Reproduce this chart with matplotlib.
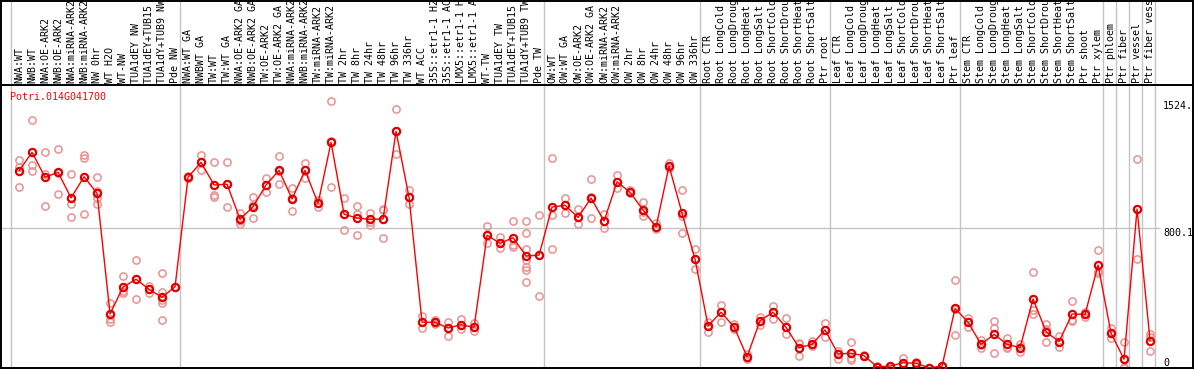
import matplotlib
matplotlib.use("Agg")
import matplotlib.pyplot as plt
import numpy as np

gene = "Potri.014G041700"

labels = [
    "NWA:WT", "NWB:WT", "NWA:OE-ARK2", "NWB:OE-ARK2", "NWA:miRNA-ARK2", "NWB:miRNA-ARK2",
    "NW 0hr", "WT H2O", "WT-NW", "TUA1dEY NW", "TUA1dEY+TUB15 NW", "TUA1dY+TUB9 NW", "Pde NW",
    "NWA:WT GA", "NWBWT GA", "TW:WT", "TW:WT GA", "NWA:OE-ARK2 GA", "NWB:OE-ARK2 GA",
    "TW:OE-ARK2", "TW:OE-ARK2 GA", "NWA:miRNA-ARK2 GA", "NWB:miRNA-ARK2 GA", "TW:miRNA-ARK2",
    "TW:miRNA-ARK2 GA", "TW 2hr", "TW 8hr", "TW 24hr", "TW 48hr", "TW 96hr", "TW 336hr",
    "WT ACC", "35S::etr1-1 H2O", "35S::etr1-1 ACC", "LMX5::etr1-1 H2O", "LMX5::etr1-1 ACC",
    "WT-TW", "TUA1dEY TW", "TUA1dEY+TUB15 TW", "TUA1dY+TUB9 TW", "Pde TW",
    "OW:WT", "OW:WT GA", "OW:OE-ARK2", "OW:OE-ARK2 GA", "OW:miRNA-ARK2", "OW:miRNA-ARK2 GA",
    "OW 2hr", "OW 8hr", "OW 24hr", "OW 48hr", "OW 96hr", "OW 336hr",
    "Root CTR", "Root LongCold", "Root LongDrought", "Root LongHeat", "Root LongSalt",
    "Root ShortCold", "Root ShortDrought", "Root ShortHeat", "Root ShortSalt", "Ptr root",
    "Leaf CTR", "Leaf LongCold", "Leaf LongDrought", "Leaf LongHeat", "Leaf LongSalt",
    "Leaf ShortCold", "Leaf ShortDrought", "Leaf ShortHeat", "Leaf ShortSalt", "Ptr leaf",
    "Stem CTR", "Stem LongCold", "Stem LongDrought", "Stem LongHeat", "Stem LongSalt",
    "Stem ShortCold", "Stem ShortDrought", "Stem ShortHeat", "Stem ShortSalt", "Ptr shoot",
    "Ptr xylem", "Ptr phloem", "Ptr fiber", "Ptr vessel", "Ptr fiber vessel",
]

group_sizes = [13, 28, 12, 10, 10, 11, 1, 1, 1, 1]

means = [
    1125, 1230, 1088, 1116, 970, 1091, 996, 308, 462, 506, 449, 403, 464,
    1088, 1173, 1044, 1048, 848, 920, 1044, 1127, 964, 1127, 939, 1287,
    877, 855, 848, 850, 1350, 973, 261, 261, 228, 247, 232,
    757, 711, 743, 639, 644,
    918, 928, 859, 969, 838, 1062, 1002, 901, 804, 1152, 882, 620,
    241, 318, 234, 64, 270, 318, 232, 116, 135, 217,
    80, 84, 70, 7, 11, 30, 27, 1, 11, 340,
    261, 135, 192, 135, 116, 394, 207, 150, 308, 306, 587,
    198, 50, 907, 156,
]

reps = [
    [1186, 1148, 1031], [1414, 1158, 1124], [1230, 1106, 924], [1247, 991, 1110],
    [1106, 934, 861], [1215, 1199, 877], [1088, 1009, 968, 934], [369, 278, 264],
    [525, 426, 439], [614, 392, 508], [468, 426, 451], [542, 435, 388, 372, 274], [464],
    [1095, 1081, 1086], [1215, 1173, 1129], [1175, 987, 977], [1175, 918, 1049],
    [886, 820, 838], [977, 854, 930], [1082, 1005, 1044], [1209, 1048, 1126],
    [1025, 897, 970], [1167, 1085, 1129], [958, 941, 920], [1524, 1031, 1295],
    [968, 787, 877], [922, 878, 757], [886, 833, 816], [908, 901, 740],
    [1475, 1220, 1350], [1015, 934, 973], [297, 230, 261], [274, 261, 251],
    [261, 184, 228], [278, 221, 247], [255, 209, 232],
    [810, 711, 757], [749, 683, 711], [838, 692, 701],
    [838, 768, 677, 616, 578, 559, 489], [871, 411],
    [1196, 871, 677], [968, 882, 928], [905, 820, 859], [1076, 854, 973],
    [878, 797, 838], [1101, 1025, 1062], [1015, 996, 1002], [945, 869, 891],
    [825, 791, 804], [1171, 1139, 1152], [1015, 768, 867], [679, 563, 620],
    [261, 204, 241], [358, 261, 319], [249, 221, 234], [80, 64, 51], [289, 245, 270],
    [354, 278, 319], [283, 192, 232], [141, 70, 137], [156, 135, 125], [255, 175, 217],
    [99, 50, 80], [147, 46, 59], [70, 66, 74], [7, 3, 11], [11, 8, 14],
    [55, 17, 18], [36, 17, 28], [0, 1, 2], [13, 9, 11], [500, 186, 334],
    [287, 232, 261], [160, 116, 130], [268, 226, 84], [173, 112, 120], [135, 93, 120],
    [546, 331, 308], [249, 147, 225], [182, 121, 147], [382, 268, 274], [321, 293, 306],
    [671, 543, 553], [228, 169, 198], [150, 7, 0], [1190, 620, 907], [192, 179, 99],
]

y_ticks = [0, 800.1, 1524]
y_tick_text = ["0", "800.1", "1524."]

W, H = 1194, 370
fig = plt.figure(figsize=(W / 100, H / 100), dpi=100)
ax = fig.add_axes([1 / W, 2 / H, 1192 / W, 283 / H])
hx = fig.add_axes([1 / W, 285 / H, 1192 / W, 84.5 / H])

xl = (-10 / 13, 1182 / 13)
xs = np.arange(len(labels)) + 0.62
mono = "DejaVu Sans Mono"
grid_c = "#c4c4c4"

bounds = np.concatenate([[0], np.cumsum(group_sizes)])
for a in (ax, hx):
    a.set_xlim(*xl)
    for b in bounds:
        a.axvline(b, color=grid_c, lw=1, zorder=0)
    a.set_xticks([])
    a.set_yticks([])
    for s in a.spines.values():
        s.set_linewidth(1.4)
        s.set_color("black")

ax.set_ylim(0, 1614)
ax.hlines(y_ticks[1], xl[0], 88.4, color=grid_c, lw=1, zorder=0)

for x, r in zip(xs, reps):
    ax.plot([x] * len(r), r, "o", ms=5.2, mfc="none", mec="#ec9090", mew=1.1, zorder=2)
ax.plot(xs, means, "-", color="red", lw=1, zorder=3)
ax.plot(xs, means, "o", ms=5.2, mfc="none", mec="#e00000", mew=1.6, zorder=4)

# gene name, top left inside the plot
ax.text(-0.08, 0.958, gene, transform=ax.get_xaxis_transform(), color="red",
        family=mono, fontsize=7.2, va="center", ha="left")

for v, t in zip(y_ticks, y_tick_text):
    va = "bottom" if v == 0 else "top"
    ax.text(88.62, v, t, family=mono, fontsize=7.2, ha="left", va=va, clip_on=False)

hx.set_ylim(0, 85)
for x, lab in zip(xs, labels):
    hx.text(x, 1.8, lab, rotation=90, family=mono, fontsize=7.2,
            ha="center", va="bottom", clip_on=True)

fig.savefig("out.png", dpi=100)
